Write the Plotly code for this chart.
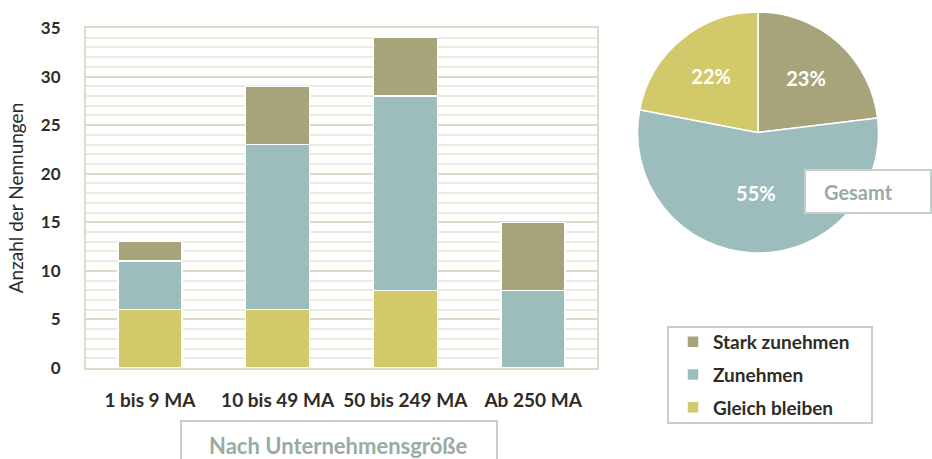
import plotly.graph_objects as go

categories = ["1 bis 9 MA", "10 bis 49 MA", "50 bis 249 MA", "Ab 250 MA"]
series_names = ["Gleich bleiben", "Zunehmen", "Stark zunehmen"]
gleich_bleiben = [6, 6, 8, 0]
zunehmen = [5, 17, 20, 8]
stark_zunehmen = [2, 6, 6, 7]
pie_labels = ["Stark zunehmen", "Zunehmen", "Gleich bleiben"]
pie_values = [sum(stark_zunehmen), sum(zunehmen), sum(gleich_bleiben)]
y_ticks = [0, 5, 10, 15, 20, 25, 30, 35]

colors = {"Stark zunehmen": "#a7a47b", "Zunehmen": "#9cbdbc", "Gleich bleiben": "#d2c96a"}
legend_rank = {"Stark zunehmen": 1, "Zunehmen": 2, "Gleich bleiben": 3}
FONT = "Lato"
W, H = 932, 459

def px(x):
    return x / W

def py(y):
    return 1 - y / H

fig = go.Figure()
for name, vals in zip(series_names, [gleich_bleiben, zunehmen, stark_zunehmen]):
    fig.add_trace(go.Bar(
        x=categories, y=vals, name=name, legendgroup=name, legendrank=legend_rank[name],
        marker=dict(color=colors[name], line=dict(color="white", width=1.5)),
        width=0.5,
    ))

fig.add_trace(go.Pie(
    labels=pie_labels, values=pie_values, sort=False, direction="clockwise", rotation=0,
    marker=dict(colors=[colors[l] for l in pie_labels], line=dict(color="white", width=1.5)),
    texttemplate="%{percent:.0%}", textposition="inside", insidetextorientation="horizontal",
    textfont=dict(family=FONT, size=20, color="white", weight="bold"),
    domain=dict(x=[px(637), px(879)], y=[py(253), py(12)]),
    showlegend=False, hoverinfo="label+percent",
))

fig.update_layout(
    width=W, height=H, margin=dict(l=0, r=0, t=0, b=0, autoexpand=False),
    paper_bgcolor="white", plot_bgcolor="white",
    barmode="stack", bargap=0.5,
    font=dict(family=FONT, color="#2e2c25"),
    xaxis=dict(domain=[px(86), px(597)], showgrid=False, showline=True, linecolor="#dedbc8",
               linewidth=2, mirror=True, ticks="", ticklabelstandoff=14, automargin=False,
               tickfont=dict(family=FONT, size=19, weight="bold", color="#2e2c25")),
    yaxis=dict(domain=[py(368), py(28)], range=[0, 35], tickvals=y_ticks, automargin=False,
               showgrid=True, gridcolor="#dcd9c4", gridwidth=2,
               minor=dict(dtick=1, showgrid=True, gridcolor="#ecebdf", gridwidth=1.5),
               showline=True, linecolor="#dedbc8", linewidth=2, mirror=True, zeroline=False,
               ticks="", ticklabelstandoff=20,
               tickfont=dict(family=FONT, size=17, weight="bold", color="#2e2c25"),
               title=dict(text="Anzahl der Nennungen", standoff=12,
                          font=dict(family=FONT, size=19, color="#2e2c25"))),
    legend=dict(x=px(673), y=py(323), xanchor="left", yanchor="top",
                traceorder="grouped", tracegroupgap=5, borderwidth=0,
                bgcolor="rgba(0,0,0,0)", font=dict(family=FONT, size=19, weight="bold", color="#2e2c25"),
                itemwidth=30),
    shapes=[
        dict(type="rect", xref="paper", yref="paper", x0=px(181), x1=px(497), y0=py(462), y1=py(421),
             line=dict(color="#c6cecb", width=2), fillcolor="white", layer="above"),
        dict(type="rect", xref="paper", yref="paper", x0=px(805), x1=px(931), y0=py(213), y1=py(170),
             line=dict(color="#c6cecb", width=2), fillcolor="white", layer="above"),
        dict(type="rect", xref="paper", yref="paper", x0=px(668), x1=px(872), y0=py(423), y1=py(327),
             line=dict(color="#c6cecb", width=2), fillcolor="rgba(0,0,0,0)", layer="below"),
    ],
    annotations=[
        dict(text="Nach Unternehmensgröße", xref="paper", yref="paper", x=px(338), y=py(445),
             xanchor="center", yanchor="middle",
             showarrow=False, font=dict(family=FONT, size=22, weight="bold", color="#9aaaa5")),
        dict(text="Gesamt", xref="paper", yref="paper", x=px(858), y=py(192),
             xanchor="center", yanchor="middle",
             showarrow=False, font=dict(family=FONT, size=20, weight="bold", color="#9aaaa5")),
    ],
)

fig.write_html("out.html", config={"displayModeBar": False},
               post_script="document.body.style.margin='0';document.body.style.overflow='hidden';")
